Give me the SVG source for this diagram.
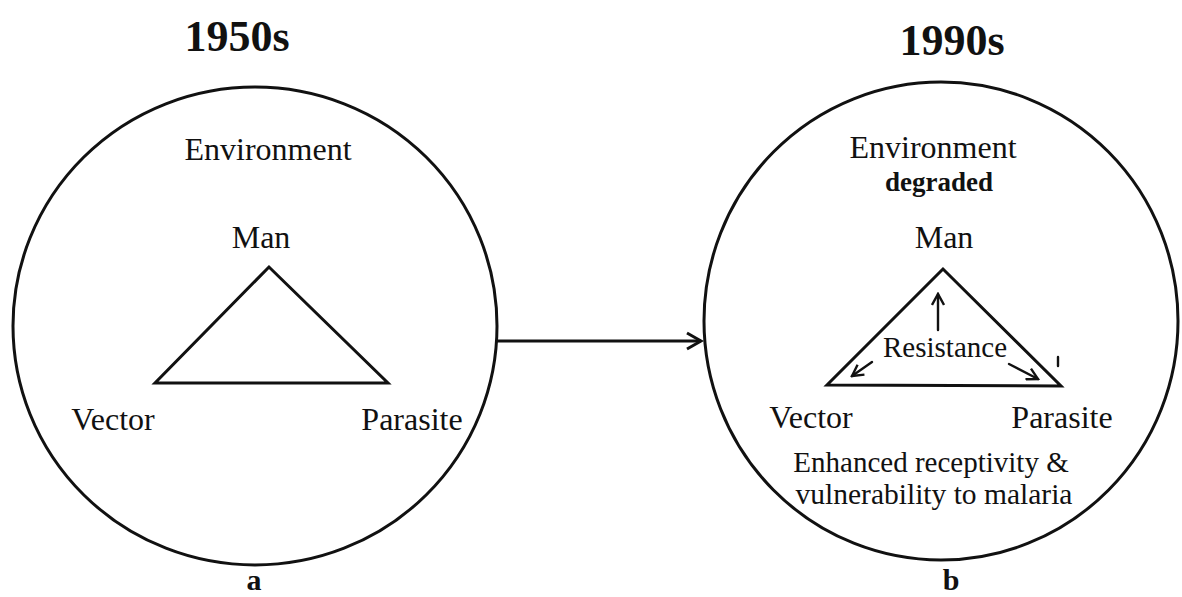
<svg xmlns="http://www.w3.org/2000/svg" width="1182" height="597" viewBox="0 0 1182 597">
<style>
.t{font-family:"Liberation Serif","Times New Roman",serif;fill:#111;text-anchor:middle}
.b{font-weight:bold}
.ln{fill:none;stroke:#111;stroke-width:3;stroke-linejoin:miter}
.thin{fill:none;stroke:#111;stroke-width:2.4;stroke-linecap:round}
</style>
<defs>
<marker id="ah" viewBox="0 0 14 14" refX="12" refY="7" markerWidth="14" markerHeight="14" markerUnits="userSpaceOnUse" orient="auto">
<path d="M1,1 L12,7 L1,13" fill="none" stroke="#111" stroke-width="2.4"/>
</marker>
<marker id="ahb" viewBox="0 0 20 20" refX="17" refY="10" markerWidth="20" markerHeight="20" markerUnits="userSpaceOnUse" orient="auto">
<path d="M3,2 L17,10 L3,18" fill="none" stroke="#111" stroke-width="3"/>
</marker>
</defs>
<rect width="1182" height="597" fill="#fff"/>
<g id="panel-a">
<text class="t b" x="237" y="51" font-size="44">1950s</text>
<ellipse class="ln" cx="255" cy="326" rx="242" ry="239"/>
<text class="t" x="268" y="160" font-size="32">Environment</text>
<g id="a-man"><text class="t" x="261" y="248" font-size="32">Man</text></g>
<polygon id="a-triangle" class="ln" points="269,267 155,383 388,383"/>
<g id="a-vector"><text class="t" x="113" y="430" font-size="32">Vector</text></g>
<g id="a-parasite"><text class="t" x="412" y="430" font-size="32">Parasite</text></g>
<text class="t b" x="254" y="590" font-size="30">a</text>
</g>
<g id="connectors">
<line class="ln" x1="497" y1="341" x2="701" y2="341" marker-end="url(#ahb)"/>
</g>
<g id="panel-b">
<text class="t b" x="952" y="55" font-size="44">1990s</text>
<ellipse class="ln" cx="941" cy="321" rx="237" ry="239"/>
<text class="t" x="933" y="158" font-size="32">Environment</text>
<text class="t b" x="939" y="191" font-size="27">degraded</text>
<g id="b-man"><text class="t" x="944" y="248" font-size="32">Man</text></g>
<polygon id="b-triangle" class="ln" points="943,269 827,385 1061,386"/>
<line class="thin" x1="938" y1="330" x2="938" y2="294" marker-end="url(#ah)"/>
<line class="thin" x1="872" y1="362" x2="852" y2="376" marker-end="url(#ah)"/>
<line class="thin" x1="1009" y1="364" x2="1038" y2="379" marker-end="url(#ah)"/>
<line class="thin" x1="1058" y1="357" x2="1058" y2="366"/>
<text class="t" x="945" y="357" font-size="29">Resistance</text>
<g id="b-vector"><text class="t" x="811" y="428" font-size="32">Vector</text></g>
<g id="b-parasite"><text class="t" x="1062" y="428" font-size="32">Parasite</text></g>
<text class="t" x="931" y="472" font-size="29">Enhanced receptivity &amp;</text>
<text class="t" x="934" y="504" font-size="29.5">vulnerability to malaria</text>
<text class="t b" x="951" y="590" font-size="30">b</text>
</g>
</svg>
